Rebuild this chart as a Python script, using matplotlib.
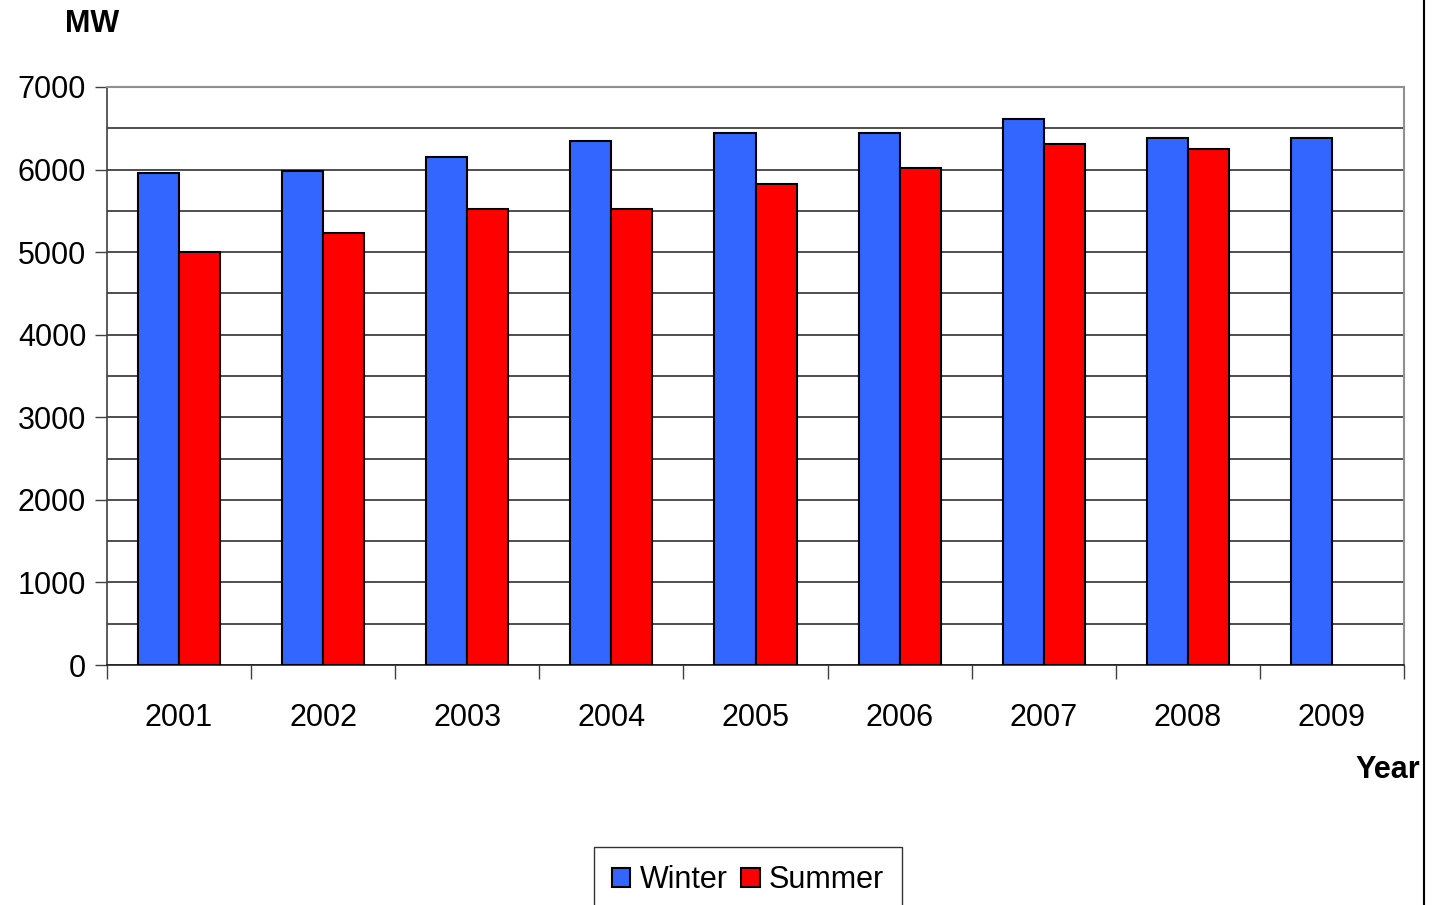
import matplotlib
matplotlib.use("Agg")
import matplotlib.pyplot as plt
import numpy as np
from matplotlib.lines import Line2D

years = ["2001", "2002", "2003", "2004", "2005", "2006", "2007", "2008", "2009"]
winter = [5960, 5985, 6150, 6350, 6440, 6440, 6610, 6380, 6380]
summer = [5000, 5230, 5520, 5520, 5830, 6020, 6310, 6250, None]

plt.rcParams['font.family'] = ['Liberation Sans', 'DejaVu Sans']
fs = 22

W, H = 1441, 905
fig = plt.figure(figsize=(W / 100, H / 100), dpi=100)
ax = fig.add_axes([107 / W, 1 - 665 / H, (1404 - 107) / W, (665 - 87) / H])

x = np.arange(len(years))
bw = 0.285
ax.bar(x - bw / 2, winter, width=bw, color="#3366FF", edgecolor="black", linewidth=1.5, label="Winter", zorder=3)
s_vals = [np.nan if v is None else v for v in summer]
ax.bar(x + bw / 2, s_vals, width=bw, color="#FF0000", edgecolor="black", linewidth=1.5, label="Summer", zorder=3)

ax.set_xlim(-0.5, len(years) - 0.5)
ax.set_ylim(0, 7000)

ax.set_yticks(np.arange(0, 7001, 1000))
ax.set_yticks(np.arange(0, 7001, 500), minor=True)
ax.yaxis.grid(True, which="both", color="#303030", linewidth=1.2, zorder=0)
ax.tick_params(axis="y", which="major", length=9, width=1, color="#404040", labelsize=fs, pad=6)
ax.tick_params(axis="y", which="minor", length=0)

ax.set_xticks(x)
ax.set_xticklabels(years)
ax.set_xticks(np.arange(-0.5, len(years), 1.0), minor=True)
ax.tick_params(axis="x", which="major", length=0, labelsize=fs, pad=27)
ax.tick_params(axis="x", which="minor", length=10, width=1, color="#404040")

for s in ["top", "right"]:
    ax.spines[s].set_color("#909090")
    ax.spines[s].set_linewidth(1.5)
ax.spines["left"].set_color("#404040")
ax.spines["bottom"].set_color("#202020")
ax.spines["left"].set_linewidth(1.2)
ax.spines["bottom"].set_linewidth(1.2)
ax.set_axisbelow(True)

fig.text(92 / W, 1 - 24 / H, "MW", fontsize=fs, fontweight="bold", ha="center", va="center")
fig.text(1420 / W, 1 - 770 / H, "Year", fontsize=fs, fontweight="bold", ha="right", va="center")

fig.add_artist(Line2D([1424 / W, 1424 / W], [0, 1], transform=fig.transFigure, color="black", linewidth=1.5))

leg = fig.legend(loc="upper center", bbox_to_anchor=(748 / W, 1 - 847 / H), ncol=2, fontsize=fs,
                 frameon=True, fancybox=False, edgecolor="black", handlelength=0.6, handleheight=0.6,
                 handletextpad=0.3, columnspacing=0.45, borderpad=0.6, borderaxespad=0)
leg.get_frame().set_linewidth(1.0)

fig.savefig("out.png", dpi=100)
